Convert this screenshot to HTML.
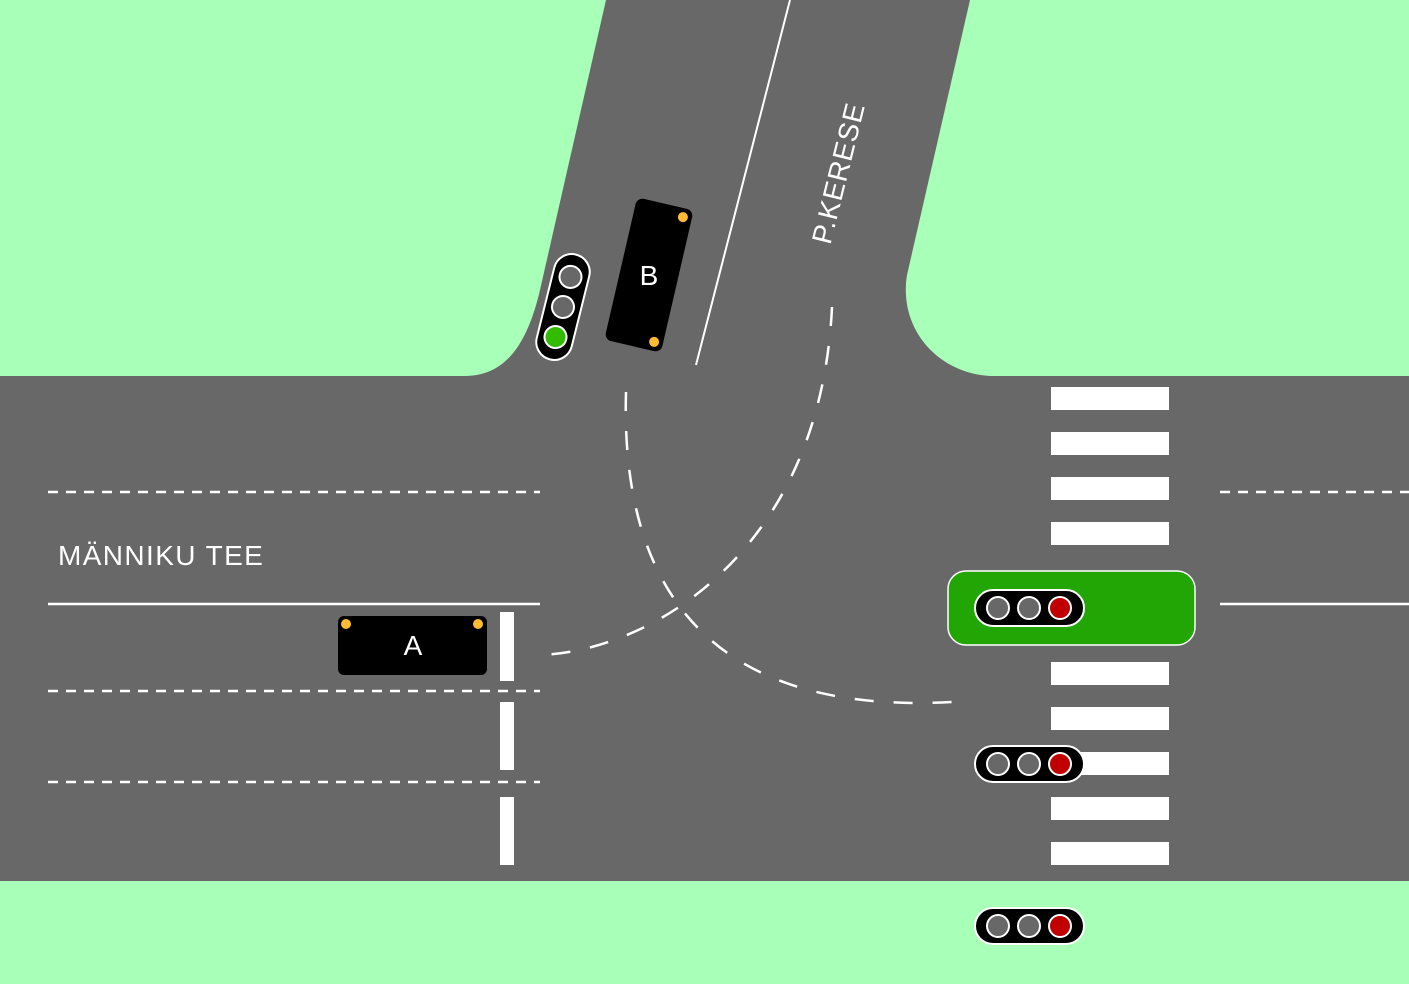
<!DOCTYPE html>
<html><head><meta charset="utf-8"><style>html,body{margin:0;padding:0;overflow:hidden}svg{display:block}</style></head>
<body>
<svg width="1409" height="984" viewBox="0 0 1409 984" xmlns="http://www.w3.org/2000/svg" font-family="Liberation Sans, sans-serif">
<rect width="1409" height="984" fill="#686868"/>
<path d="M0,0 L606,0 L540,290 C527,345 505,376 465,376 L0,376 Z" fill="#a8ffb8"/>
<path d="M970,0 L907,275 C898,330 940,376 995,376 L1409,376 L1409,0 Z" fill="#a8ffb8"/>
<rect x="0" y="881" width="1409" height="103" fill="#a8ffb8"/>
<line x1="790" y1="0" x2="696" y2="365" stroke="#fff" stroke-width="2"/>
<g stroke="#fff" stroke-width="2.5" fill="none">
<line x1="48" y1="492" x2="540" y2="492" stroke-dasharray="10 8"/>
<line x1="48" y1="604" x2="540" y2="604"/>
<line x1="48" y1="691" x2="540" y2="691" stroke-dasharray="10 8"/>
<line x1="48" y1="782" x2="540" y2="782" stroke-dasharray="10 8"/>
<line x1="1220" y1="492" x2="1409" y2="492" stroke-dasharray="10 8"/>
<line x1="1220" y1="604" x2="1409" y2="604"/>
<path d="M832,307 C820,560 640,655 535,655" stroke-dasharray="19 20"/>
<path d="M626,392 C620,600 720,720 967,701" stroke-dasharray="19 20"/>
</g>
<g fill="#fff">
<rect x="500" y="612" width="14" height="69"/>
<rect x="500" y="702" width="14" height="68"/>
<rect x="500" y="797" width="14" height="68"/>
<rect x="1051" y="387" width="118" height="23"/>
<rect x="1051" y="432" width="118" height="23"/>
<rect x="1051" y="477" width="118" height="23"/>
<rect x="1051" y="522" width="118" height="23"/>
<rect x="1051" y="662" width="118" height="23"/>
<rect x="1051" y="707" width="118" height="23"/>
<rect x="1051" y="752" width="118" height="23"/>
<rect x="1051" y="797" width="118" height="23"/>
<rect x="1051" y="842" width="118" height="23"/>
</g>
<rect x="948" y="571" width="247" height="74" rx="18" fill="#22a606" stroke="#fff" stroke-width="1.5"/>
<g stroke="#fff" stroke-width="2">
<rect x="975" y="590" width="109" height="36" rx="18" fill="#000"/>
<circle cx="998" cy="608" r="11" fill="#686868"/><circle cx="1029" cy="608" r="11" fill="#686868"/><circle cx="1060" cy="608" r="11" fill="#c00000"/>
<rect x="975" y="746" width="109" height="36" rx="18" fill="#000"/>
<circle cx="998" cy="764" r="11" fill="#686868"/><circle cx="1029" cy="764" r="11" fill="#686868"/><circle cx="1060" cy="764" r="11" fill="#c00000"/>
<rect x="975" y="908" width="109" height="36" rx="18" fill="#000"/>
<circle cx="998" cy="926" r="11" fill="#686868"/><circle cx="1029" cy="926" r="11" fill="#686868"/><circle cx="1060" cy="926" r="11" fill="#c00000"/>
<g transform="translate(563,307) rotate(14)">
<rect x="-18" y="-54" width="36" height="108" rx="18" fill="#000"/>
<circle cx="0" cy="-31" r="11" fill="#686868"/><circle cx="0" cy="0" r="11" fill="#686868"/><circle cx="0" cy="31" r="11" fill="#33bb00"/>
</g>
</g>
<rect x="338" y="616" width="149" height="59" rx="6" fill="#000"/>
<circle cx="346" cy="624" r="5" fill="#ffbb33"/><circle cx="478" cy="624" r="5" fill="#ffbb33"/>
<text x="413" y="655" fill="#fff" font-size="28" text-anchor="middle">A</text>
<g transform="translate(649,275) rotate(13)">
<rect x="-29" y="-73" width="58" height="146" rx="7" fill="#000"/>
<circle cx="20" cy="-64" r="5" fill="#ffbb33"/><circle cx="20" cy="64" r="5" fill="#ffbb33"/>
<text x="0" y="10" fill="#fff" font-size="28" text-anchor="middle" transform="rotate(-13)">B</text>
</g>
<text x="58" y="565" fill="#fff" font-size="28" letter-spacing="1.4">MÄNNIKU TEE</text>
<text transform="translate(838,173) rotate(-76)" x="0" y="10" fill="#fff" font-size="28" letter-spacing="1" text-anchor="middle">P.KERESE</text>
</svg>
</body></html>
